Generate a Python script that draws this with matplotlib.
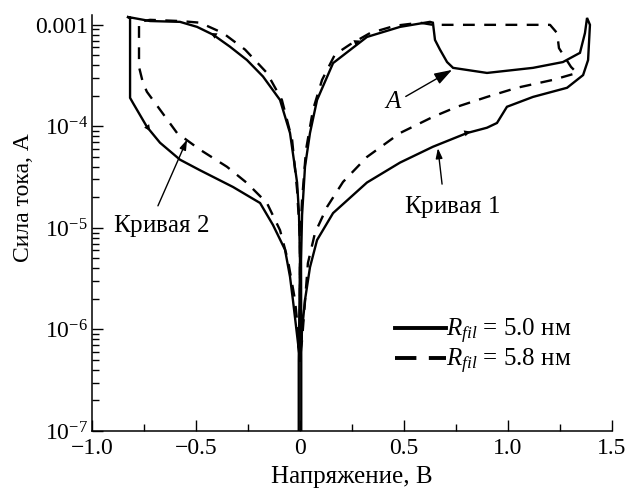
import math
import matplotlib
matplotlib.use('Agg')
import matplotlib.pyplot as plt
from matplotlib.lines import Line2D
from matplotlib.ticker import FixedLocator, MultipleLocator, LogLocator, FuncFormatter, NullFormatter

plt.rcParams['font.family'] = 'serif'
plt.rcParams['font.serif'] = ['Liberation Serif', 'DejaVu Serif']
plt.rcParams['mathtext.fontset'] = 'custom'
plt.rcParams['mathtext.rm'] = 'Liberation Serif'
plt.rcParams['mathtext.it'] = 'Liberation Serif:italic'

# I-V loops, voltage in V, current in A
# Rfil = 5.0 nm, positive-voltage loop (curve 1)
v_solid_pos = [0.006, 0.006, 0.005, 0.01, 0.024, 0.048, 0.082, 0.159, 0.322, 0.481, 0.625,
               0.639, 0.649, 0.673, 0.707, 0.736, 0.899, 1.120, 1.264, 1.346, 1.370, 1.380,
               1.394, 1.385, 1.361, 1.284, 1.120, 0.995, 0.947, 0.899, 0.803, 0.639, 0.481,
               0.322, 0.159, 0.082, 0.048, 0.024, 0.010, 0.0]
i_solid_pos = [5e-8, 5.0e-7, 4.8e-6, 1.34e-5, 4.0e-5, 8.6e-5, 1.82e-4, 4.2e-4, 7.6e-4, 9.55e-4, 1.07e-3,
               1.05e-3, 7.1e-4, 5.7e-4, 4.3e-4, 3.77e-4, 3.36e-4, 3.77e-4, 4.3e-4, 5.3e-4, 8.3e-4, 1.17e-3,
               1.0e-3, 4.5e-4, 3.2e-4, 2.4e-4, 1.95e-4, 1.56e-4, 1.08e-4, 9.7e-5, 8.6e-5, 6.3e-5, 4.4e-5,
               2.8e-5, 1.4e-5, 7.6e-6, 4.1e-6, 1.95e-6, 9.9e-7, 5.0e-7]

# Rfil = 5.0 nm, negative-voltage loop
v_solid_neg = [0.0, -0.034, -0.048, -0.072, -0.130, -0.192, -0.322, -0.481, -0.577, -0.673,
               -0.736, -0.803, -0.817, -0.817, -0.832, -0.721, -0.577, -0.495, -0.418, -0.337,
               -0.255, -0.178, -0.096, -0.048, -0.014, -0.005, 0.0, -0.006, -0.006]
i_solid_neg = [5.0e-7, 1.95e-6, 3.3e-6, 6.1e-6, 1.07e-5, 1.76e-5, 2.53e-5, 3.7e-5, 4.7e-5, 6.9e-5,
               9.9e-5, 1.7e-4, 1.91e-4, 1.17e-3, 1.2e-3, 1.09e-3, 1.07e-3, 9.55e-4, 8.0e-4, 6.1e-4,
               4.5e-4, 3.1e-4, 1.82e-4, 8.6e-5, 2.8e-5, 1.4e-5, 4.8e-6, 5.0e-7, 5e-8]

# Rfil = 5.8 nm, positive-voltage loop
v_dash_pos = [0.0, 0.0, 0.010, 0.029, 0.0625, 0.106, 0.168, 0.240, 0.337, 0.457, 0.577, 0.639,
              1.202, 1.236, 1.245, 1.303, 1.332, 1.216, 1.043, 0.899, 0.755, 0.639, 0.481,
              0.322, 0.207, 0.130, 0.072, 0.038, 0.010, 0.0]
i_dash_pos = [5.0e-7, 7.6e-6, 1.89e-5, 5.9e-5, 1.46e-4, 2.87e-4, 5.1e-4, 6.4e-4, 8.3e-4, 9.8e-4, 1.05e-3, 1.0e-3,
              1.0e-3, 8.3e-4, 5.9e-4, 3.85e-4, 3.36e-4, 2.87e-4, 2.4e-4, 1.95e-4, 1.56e-4, 1.24e-4, 8.6e-5,
              5.0e-5, 2.84e-5, 1.61e-5, 8.9e-6, 4.5e-6, 7.9e-7, 5.0e-7]

# Rfil = 5.8 nm, negative-voltage loop
v_dash_neg = [0.0, -0.005, -0.024, -0.058, -0.096, -0.159, -0.255, -0.351, -0.481, -0.591, -0.673,
              -0.736, -0.755, -0.774, -0.774, -0.721, -0.577, -0.481, -0.370, -0.264, -0.159,
              -0.087, -0.038, -0.014, 0.0, 0.0]
i_dash_neg = [5.0e-7, 7.9e-7, 1.95e-6, 4.8e-6, 9.5e-6, 1.76e-5, 2.77e-5, 4.0e-5, 5.9e-5, 8.6e-5, 1.46e-4,
              2.19e-4, 2.68e-4, 3.85e-4, 1.07e-3, 1.12e-3, 1.09e-3, 1.05e-3, 8.3e-4, 5.7e-4, 3.36e-4,
              1.82e-4, 7.4e-5, 2.37e-5, 7.6e-6, 5.0e-7]

# small direction arrows on the solid loop: (tail, head)
dir_arrows = [((-0.40, 7.7e-4), (-0.43, 8.3e-4)),
              ((-0.75, 1.1e-4), (-0.72, 9.0e-5)),
              ((0.26, 6.6e-4), (0.29, 7.0e-4)),
              ((0.78, 8.4e-5), (0.82, 8.9e-5))]

legend_labels = [r'$R_{fil}$ = 5.0 нм', r'$R_{fil}$ = 5.8 нм']

fig = plt.figure(figsize=(6.27, 4.95), dpi=100)
ax = fig.add_axes([92 / 627, 64 / 495, 520 / 627, 416 / 495])

lw = 1.7
dash = (5, 4)
ax.plot(v_solid_pos, i_solid_pos, color='black', lw=lw, solid_joinstyle='miter')
ax.plot(v_solid_neg, i_solid_neg, color='black', lw=lw, solid_joinstyle='miter')
ax.plot(v_dash_pos, i_dash_pos, color='black', lw=lw, dashes=dash)
ax.plot(v_dash_neg, i_dash_neg, color='black', lw=lw, dashes=dash)

for tail, head in dir_arrows:
    ax.annotate('', xy=head, xytext=tail,
                arrowprops=dict(arrowstyle='-|>,head_length=0.45,head_width=0.22',
                                color='black', lw=0, shrinkA=0, shrinkB=0))

ax.set_yscale('log')
ax.set_xlim(-1.0, 1.5)
ax.set_ylim(1e-7, 1.25e-3)

ax.xaxis.set_major_locator(MultipleLocator(0.5))
ax.xaxis.set_minor_locator(MultipleLocator(0.25))
ax.xaxis.set_major_formatter(FuncFormatter(
    lambda v, p: '0' if abs(v) < 1e-9 else ('%.1f' % v).replace('-', '\u2212')))

ax.yaxis.set_major_locator(FixedLocator([1e-7, 1e-6, 1e-5, 1e-4, 1e-3]))
ax.yaxis.set_minor_locator(LogLocator(base=10, subs=[2, 3, 4, 5, 6, 7, 8, 9], numticks=20))
ax.yaxis.set_minor_formatter(NullFormatter())
ax.yaxis.set_major_formatter(FuncFormatter(
    lambda v, p: '0.001' if abs(v - 1e-3) < 1e-9 else r'$10^{%d}$' % round(math.log10(v))))

for s in ('top', 'right'):
    ax.spines[s].set_visible(False)
for s in ('left', 'bottom'):
    ax.spines[s].set_linewidth(1.1)

ax.tick_params(which='both', direction='in', labelsize=17, width=1.0)
ax.tick_params(which='major', length=8)
ax.tick_params(which='minor', length=5)
ax.tick_params(axis='x', pad=5)
ax.tick_params(axis='y', pad=3)

ax.set_xlabel('Напряжение, В', fontsize=18, labelpad=5)
ax.set_ylabel('Сила тока, А', fontsize=17)
ax.yaxis.set_label_coords(-0.112, 0.56)

arrow_kw = dict(arrowstyle='-|>,head_length=0.6,head_width=0.2', color='black', lw=1.0,
                shrinkA=0, shrinkB=0)
ax.annotate('$A$', xy=(0.731, 3.6e-4), xytext=(0.45, 1.72e-4), fontsize=18,
            ha='center', va='center', arrowprops=dict(arrow_kw, relpos=(1.0, 0.7)))
ax.annotate('', xy=(0.663, 6.1e-5), xytext=(0.683, 2.7e-5), arrowprops=arrow_kw)
ax.text(0.731, 1.6e-5, 'Кривая $\\mathit{1}$', fontsize=18, ha='center', va='center')
ax.annotate('', xy=(-0.543, 7.4e-5), xytext=(-0.683, 1.65e-5), arrowprops=arrow_kw)
ax.text(-0.668, 1.05e-5, 'Кривая $\\mathit{2}$', fontsize=18, ha='center', va='center')

handles = [Line2D([], [], color='black', lw=2.8),
           Line2D([], [], color='black', lw=2.8, dashes=(5.5, 3.2))]
ax.legend(handles, legend_labels, loc='center left', bbox_to_anchor=(0.583, 0.203),
          frameon=False, fontsize=18, handlelength=2.05, handletextpad=0.0,
          labelspacing=0.05, borderpad=0, borderaxespad=0)

fig.savefig('out.png', dpi=100)
